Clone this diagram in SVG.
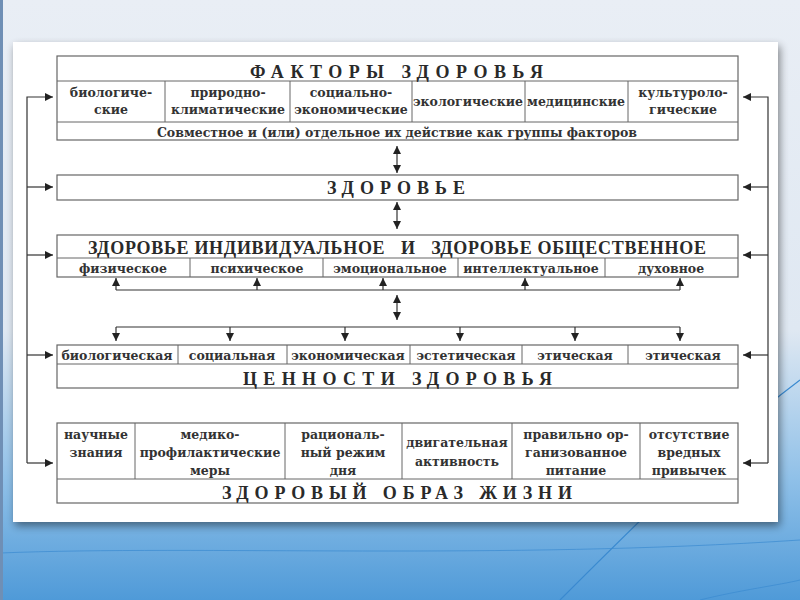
<svg xmlns="http://www.w3.org/2000/svg" width="800" height="600" viewBox="0 0 800 600">
<defs>
<linearGradient id="bg" x1="0" y1="0" x2="0" y2="1">
<stop offset="0" stop-color="#e9eef5"/>
<stop offset="0.55" stop-color="#dfe8f2"/>
<stop offset="0.8" stop-color="#8fc0e8"/>
<stop offset="1" stop-color="#4f9ad8"/>
</linearGradient>
<filter id="sh" x="-5%" y="-5%" width="110%" height="115%">
<feGaussianBlur in="SourceAlpha" stdDeviation="4"/>
<feOffset dx="2" dy="4"/>
<feComponentTransfer><feFuncA type="linear" slope="0.45"/></feComponentTransfer>
<feMerge><feMergeNode/><feMergeNode in="SourceGraphic"/></feMerge>
</filter>
<marker id="ah" viewBox="0 0 10 10" refX="10" refY="5" markerWidth="8" markerHeight="8" markerUnits="userSpaceOnUse" orient="auto-start-reverse">
<path d="M0,0 L10,5 L0,10 z" fill="#222"/>
</marker>
</defs>
<style>
.box{fill:#fff;stroke:#666;stroke-width:1.2}
.ln{stroke:#666;stroke-width:1;fill:none}
.cn{stroke:#333;stroke-width:1.2;fill:none}
text{font-family:"Liberation Serif","Times New Roman",serif;font-weight:bold;fill:#2a2a2a}
.c{font-family:"DejaVu Serif","Liberation Serif",serif;font-size:12.5px;text-anchor:middle;fill:#333}
.t{font-size:18px}
</style>
<rect x="0" y="0" width="800" height="600" fill="url(#bg)"/>
<path d="M560,600 C640,520 720,440 800,380" stroke="#3a8ad0" stroke-width="1.2" fill="none"/>
<path d="M0,553 C200,545 500,560 800,540" stroke="#3a8ad0" stroke-width="1" fill="none" opacity="0.7"/>
<path d="M700,600 C740,590 780,585 800,580" stroke="#3a8ad0" stroke-width="1" fill="none" opacity="0.7"/>
<rect x="0" y="0" width="3" height="600" fill="#6f8fb5"/>
<rect x="13" y="42" width="765" height="480" fill="#fff" filter="url(#sh)"/>

<g id="factors">
<rect class="box" x="57" y="56" width="681" height="84"/>
<line class="ln" x1="57" y1="81" x2="738" y2="81"/>
<line class="ln" x1="57" y1="122" x2="738" y2="122"/>
<line class="ln" x1="165" y1="81" x2="165" y2="122"/>
<line class="ln" x1="290" y1="81" x2="290" y2="122"/>
<line class="ln" x1="412" y1="81" x2="412" y2="122"/>
<line class="ln" x1="525" y1="81" x2="525" y2="122"/>
<line class="ln" x1="628" y1="81" x2="628" y2="122"/>
<text class="t" x="250" y="78" textLength="293" lengthAdjust="spacing">ФАКТОРЫ ЗДОРОВЬЯ</text>
<text class="c" x="111" y="97">биологиче-</text>
<text class="c" x="111" y="114">ские</text>
<text class="c" x="228" y="97">природно-</text>
<text class="c" x="228" y="114">климатические</text>
<text class="c" x="351" y="97">социально-</text>
<text class="c" x="351" y="114">экономические</text>
<text class="c" x="468" y="106">экологические</text>
<text class="c" x="576" y="106">медицинские</text>
<text class="c" x="683" y="97">культуроло-</text>
<text class="c" x="683" y="114">гические</text>
<text class="c" x="397" y="137">Совместное и (или) отдельное их действие как группы факторов</text>
</g>

<g id="health">
<rect class="box" x="57" y="175" width="681" height="25"/>
<text class="t" x="327" y="194" textLength="138" lengthAdjust="spacing">ЗДОРОВЬЕ</text>
</g>

<g id="individual-public">
<rect class="box" x="57" y="235" width="681" height="42"/>
<line class="ln" x1="57" y1="258" x2="738" y2="258"/>
<line class="ln" x1="190" y1="258" x2="190" y2="277"/>
<line class="ln" x1="323" y1="258" x2="323" y2="277"/>
<line class="ln" x1="458" y1="258" x2="458" y2="277"/>
<line class="ln" x1="605" y1="258" x2="605" y2="277"/>
<text class="t" x="88" y="254" textLength="618" lengthAdjust="spacing" xml:space="preserve">ЗДОРОВЬЕ ИНДИВИДУАЛЬНОЕ   И   ЗДОРОВЬЕ ОБЩЕСТВЕННОЕ</text>
<text class="c" x="123" y="273">физическое</text>
<text class="c" x="257" y="273">психическое</text>
<text class="c" x="390" y="273">эмоциональное</text>
<text class="c" x="531" y="273">интеллектуальное</text>
<text class="c" x="671" y="273">духовное</text>
</g>

<g id="values">
<rect class="box" x="57" y="345" width="681" height="43"/>
<line class="ln" x1="57" y1="364" x2="738" y2="364"/>
<line class="ln" x1="178" y1="345" x2="178" y2="364"/>
<line class="ln" x1="287" y1="345" x2="287" y2="364"/>
<line class="ln" x1="410" y1="345" x2="410" y2="364"/>
<line class="ln" x1="522" y1="345" x2="522" y2="364"/>
<line class="ln" x1="628" y1="345" x2="628" y2="364"/>
<text class="c" x="117" y="360">биологическая</text>
<text class="c" x="232" y="360">социальная</text>
<text class="c" x="348" y="360">экономическая</text>
<text class="c" x="466" y="360">эстетическая</text>
<text class="c" x="575" y="360">этическая</text>
<text class="c" x="683" y="360">этическая</text>
<text class="t" x="243" y="385" textLength="309" lengthAdjust="spacing">ЦЕННОСТИ ЗДОРОВЬЯ</text>
</g>

<g id="lifestyle">
<rect class="box" x="57" y="423" width="681" height="80"/>
<line class="ln" x1="57" y1="479" x2="738" y2="479"/>
<line class="ln" x1="135" y1="423" x2="135" y2="479"/>
<line class="ln" x1="285" y1="423" x2="285" y2="479"/>
<line class="ln" x1="402" y1="423" x2="402" y2="479"/>
<line class="ln" x1="512" y1="423" x2="512" y2="479"/>
<line class="ln" x1="640" y1="423" x2="640" y2="479"/>
<text class="c" x="96" y="439">научные</text>
<text class="c" x="96" y="457">знания</text>
<text class="c" x="210" y="439">медико-</text>
<text class="c" x="210" y="457">профилактические</text>
<text class="c" x="210" y="475">меры</text>
<text class="c" x="343" y="439">рациональ-</text>
<text class="c" x="343" y="457">ный режим</text>
<text class="c" x="343" y="475">дня</text>
<text class="c" x="457" y="447">двигательная</text>
<text class="c" x="457" y="466">активность</text>
<text class="c" x="576" y="439">правильно ор-</text>
<text class="c" x="576" y="457">ганизованное</text>
<text class="c" x="576" y="475">питание</text>
<text class="c" x="689" y="439">отсутствие</text>
<text class="c" x="689" y="457">вредных</text>
<text class="c" x="689" y="475">привычек</text>
<text class="t" x="222" y="499" textLength="350" lengthAdjust="spacing">ЗДОРОВЫЙ ОБРАЗ ЖИЗНИ</text>
</g>

<g id="connectors">
<polyline class="cn" points="27,463 27,97 53,97" marker-end="url(#ah)"/>
<line class="cn" x1="27" y1="187" x2="53" y2="187" marker-end="url(#ah)"/>
<line class="cn" x1="27" y1="255" x2="53" y2="255" marker-end="url(#ah)"/>
<line class="cn" x1="27" y1="355" x2="53" y2="355" marker-end="url(#ah)"/>
<line class="cn" x1="27" y1="463" x2="53" y2="463" marker-end="url(#ah)"/>
<polyline class="cn" points="768,463 768,97 743,97" marker-end="url(#ah)"/>
<line class="cn" x1="768" y1="187" x2="743" y2="187" marker-end="url(#ah)"/>
<line class="cn" x1="768" y1="255" x2="743" y2="255" marker-end="url(#ah)"/>
<line class="cn" x1="768" y1="355" x2="743" y2="355" marker-end="url(#ah)"/>
<line class="cn" x1="768" y1="463" x2="743" y2="463" marker-end="url(#ah)"/>
<line class="cn" x1="397" y1="146" x2="397" y2="173" marker-start="url(#ah)" marker-end="url(#ah)"/>
<line class="cn" x1="397" y1="202" x2="397" y2="229" marker-start="url(#ah)" marker-end="url(#ah)"/>
<line class="cn" x1="397" y1="295" x2="397" y2="320" marker-start="url(#ah)" marker-end="url(#ah)"/>
<line class="cn" x1="116" y1="290" x2="680" y2="290"/>
<line class="cn" x1="116" y1="290" x2="116" y2="278" marker-end="url(#ah)"/>
<line class="cn" x1="257" y1="290" x2="257" y2="278" marker-end="url(#ah)"/>
<line class="cn" x1="383" y1="290" x2="383" y2="278" marker-end="url(#ah)"/>
<line class="cn" x1="525" y1="290" x2="525" y2="278" marker-end="url(#ah)"/>
<line class="cn" x1="680" y1="290" x2="680" y2="278" marker-end="url(#ah)"/>
<line class="cn" x1="116" y1="327" x2="680" y2="327"/>
<line class="cn" x1="116" y1="327" x2="116" y2="341" marker-end="url(#ah)"/>
<line class="cn" x1="230" y1="327" x2="230" y2="341" marker-end="url(#ah)"/>
<line class="cn" x1="345" y1="327" x2="345" y2="341" marker-end="url(#ah)"/>
<line class="cn" x1="460" y1="327" x2="460" y2="341" marker-end="url(#ah)"/>
<line class="cn" x1="575" y1="327" x2="575" y2="341" marker-end="url(#ah)"/>
<line class="cn" x1="680" y1="327" x2="680" y2="341" marker-end="url(#ah)"/>
</g>
</svg>
